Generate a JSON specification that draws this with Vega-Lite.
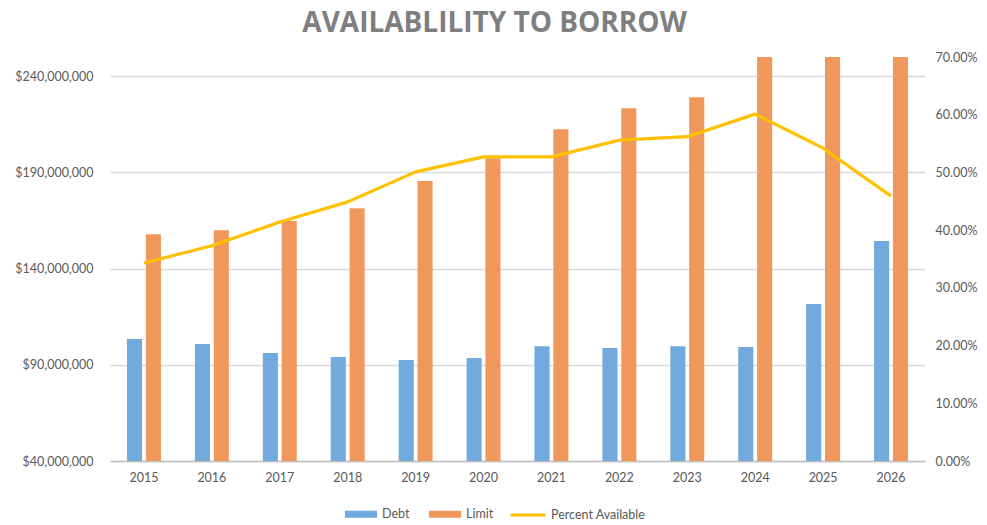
{
  "$schema": "https://vega.github.io/schema/vega-lite/v6.json",
  "autosize": {"type": "none"},
  "width": 815,
  "height": 404,
  "padding": {"left": 110, "top": 57, "right": 62, "bottom": 64},
  "background": "white",
  "title": {
    "text": "AVAILABLILITY TO BORROW",
    "font": "Open Sans",
    "fontSize": 28,
    "fontWeight": "bold",
    "color": "#7f7f7f",
    "anchor": "middle",
    "dx": -23,
    "offset": 13
  },
  "datasets": {
    "bars": [
      {"year": "2015", "series": "Debt", "value": 103400000},
      {"year": "2015", "series": "Limit", "value": 157900000},
      {"year": "2016", "series": "Debt", "value": 100800000},
      {"year": "2016", "series": "Limit", "value": 160000000},
      {"year": "2017", "series": "Debt", "value": 96100000},
      {"year": "2017", "series": "Limit", "value": 164700000},
      {"year": "2018", "series": "Debt", "value": 94000000},
      {"year": "2018", "series": "Limit", "value": 171400000},
      {"year": "2019", "series": "Debt", "value": 92500000},
      {"year": "2019", "series": "Limit", "value": 185500000},
      {"year": "2020", "series": "Debt", "value": 93500000},
      {"year": "2020", "series": "Limit", "value": 197400000},
      {"year": "2021", "series": "Debt", "value": 99700000},
      {"year": "2021", "series": "Limit", "value": 212500000},
      {"year": "2022", "series": "Debt", "value": 98700000},
      {"year": "2022", "series": "Limit", "value": 223400000},
      {"year": "2023", "series": "Debt", "value": 99700000},
      {"year": "2023", "series": "Limit", "value": 229100000},
      {"year": "2024", "series": "Debt", "value": 99200000},
      {"year": "2024", "series": "Limit", "value": 250000000},
      {"year": "2025", "series": "Debt", "value": 121600000},
      {"year": "2025", "series": "Limit", "value": 250000000},
      {"year": "2026", "series": "Debt", "value": 154300000},
      {"year": "2026", "series": "Limit", "value": 250000000}
    ],
    "line": [
      {"year": "2015", "series": "Percent Available", "pct": 0.343},
      {"year": "2016", "series": "Percent Available", "pct": 0.373},
      {"year": "2017", "series": "Percent Available", "pct": 0.414},
      {"year": "2018", "series": "Percent Available", "pct": 0.449},
      {"year": "2019", "series": "Percent Available", "pct": 0.501},
      {"year": "2020", "series": "Percent Available", "pct": 0.527},
      {"year": "2021", "series": "Percent Available", "pct": 0.527},
      {"year": "2022", "series": "Percent Available", "pct": 0.556},
      {"year": "2023", "series": "Percent Available", "pct": 0.562},
      {"year": "2024", "series": "Percent Available", "pct": 0.601},
      {"year": "2025", "series": "Percent Available", "pct": 0.542},
      {"year": "2026", "series": "Percent Available", "pct": 0.459}
    ]
  },
  "config": {
    "view": {"stroke": null},
    "axis": {
      "labelFont": "Lato",
      "labelFontSize": 12.5,
      "labelColor": "#595959",
      "titleFont": "Lato"
    },
    "legend": {
      "labelFont": "Lato",
      "labelFontSize": 12.5,
      "labelColor": "#595959"
    }
  },
  "layer": [
    {
      "data": {"name": "bars"},
      "mark": {"type": "bar"},
      "encoding": {
        "x": {
          "field": "year",
          "type": "nominal",
          "scale": {"paddingInner": 0.5, "paddingOuter": 0.25},
          "axis": {
            "title": null,
            "labelAngle": 0,
            "ticks": false,
            "domain": true,
            "domainColor": "#bfbfbf",
            "domainWidth": 1.5,
            "labelPadding": 10
          }
        },
        "xOffset": {
          "field": "series",
          "type": "nominal",
          "scale": {"paddingInner": 0.2}
        },
        "y": {
          "field": "value",
          "type": "quantitative",
          "scale": {"domain": [40000000, 250000000], "zero": false, "nice": false},
          "axis": {
            "title": null,
            "values": [40000000, 90000000, 140000000, 190000000, 240000000],
            "format": "$,.0f",
            "domain": false,
            "ticks": false,
            "gridColor": "#d9d9d9",
            "gridWidth": 1.3,
            "labelPadding": 17
          }
        },
        "y2": {"datum": 40000000},
        "fill": {
          "field": "series",
          "type": "nominal",
          "scale": {"domain": ["Debt", "Limit"], "range": ["#72aadd", "#f0985c"]},
          "legend": {
            "title": null,
            "orient": "none",
            "legendX": 234,
            "legendY": 449,
            "direction": "horizontal",
            "symbolType": "M-2.3,-0.5H2.3V0.5H-2.3Z",
            "symbolSize": 196,
            "symbolOffset": 9,
            "labelOffset": 13,
            "columnPadding": 18
          }
        }
      }
    },
    {
      "data": {"name": "line"},
      "mark": {"type": "line", "strokeWidth": 3.2, "strokeJoin": "round"},
      "encoding": {
        "x": {"field": "year", "type": "nominal"},
        "y": {
          "field": "pct",
          "type": "quantitative",
          "scale": {"domain": [0, 0.7], "nice": false},
          "axis": {
            "title": null,
            "orient": "right",
            "values": [0, 0.1, 0.2, 0.3, 0.4, 0.5, 0.6, 0.7],
            "format": ".2%",
            "grid": false,
            "domain": false,
            "ticks": false,
            "labelPadding": 10
          }
        },
        "stroke": {
          "field": "series",
          "type": "nominal",
          "scale": {"domain": ["Percent Available"], "range": ["#ffc000"]},
          "legend": {
            "title": null,
            "orient": "none",
            "legendX": 399,
            "legendY": 439,
            "symbolType": "stroke",
            "symbolSize": 1225,
            "symbolStrokeWidth": 3
          }
        }
      }
    }
  ],
  "resolve": {"scale": {"y": "independent"}}
}
